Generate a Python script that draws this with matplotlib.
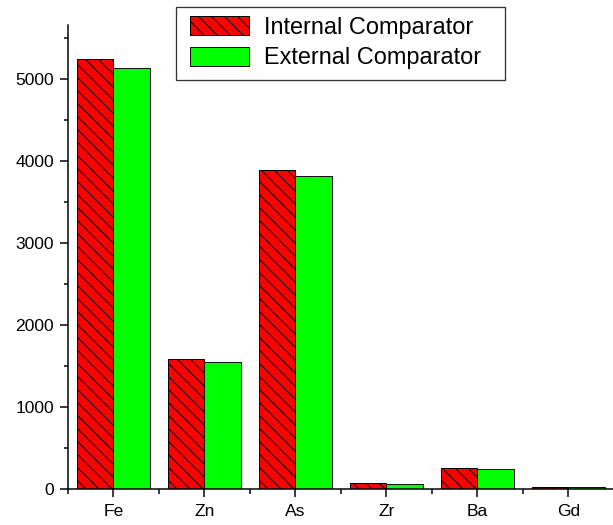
import numpy as np
import matplotlib.pyplot as plt
from matplotlib.patches import Rectangle
from matplotlib.ticker import MultipleLocator

elements = ['Fe', 'Zn', 'As', 'Zr', 'Ba', 'Gd']
internal = [5240, 1590, 3895, 70, 252, 28]
external = [5135, 1555, 3820, 62, 248, 25]

DPI = 78
W, H = 613, 525


def pt(px):
    # pixel size -> points at this dpi
    return px * 72.0 / DPI


plt.rcParams['font.family'] = ['Liberation Sans', 'DejaVu Sans']
plt.rcParams['hatch.linewidth'] = pt(1.0)

fig = plt.figure(figsize=(W / DPI, H / DPI), dpi=DPI)
ax = fig.add_axes([68 / W, (H - 489) / H, (614 - 68) / W, (489 - 25) / H])

x = np.arange(len(elements))
bw = 0.4
ax.bar(x - bw / 2, internal, bw, color='#ff0000', edgecolor='black',
       linewidth=pt(1.0), hatch='\\\\', label='Internal Comparator')
ax.bar(x + bw / 2, external, bw, color='#00ff00', edgecolor='#111111',
       linewidth=pt(1.0), label='External Comparator')

ax.set_xlim(-0.5, 5.5)
ax.set_ylim(0, 5660)
ax.set_xticks(x)
ax.set_xticklabels(elements)
ax.xaxis.set_minor_locator(MultipleLocator(1, offset=0.5))
ax.yaxis.set_major_locator(MultipleLocator(1000))
ax.yaxis.set_minor_locator(MultipleLocator(500))

for side in ('top', 'right'):
    ax.spines[side].set_visible(False)
for side in ('left', 'bottom'):
    ax.spines[side].set_linewidth(pt(1.5))

ax.tick_params(which='major', direction='out', length=pt(8), width=pt(1.5),
               labelsize=pt(17.5), pad=pt(6))
ax.tick_params(which='minor', direction='out', length=pt(4.5), width=pt(1.5))
ax.tick_params(axis='x', which='major', pad=pt(7))

# legend entries without their own frame; the box is drawn separately
fs = 23.5
leg = fig.legend(loc='upper left', bbox_to_anchor=(190 / W, 1 - 16 / H),
                 fontsize=pt(fs), frameon=False,
                 handlelength=59 / fs, handleheight=21 / fs,
                 handletextpad=15 / fs,
                 labelspacing=0.33, borderpad=0, borderaxespad=0)
fig.patches.append(Rectangle((176 / W, 1 - 80 / H), (505 - 176) / W, 73 / H,
                             transform=fig.transFigure, fill=False,
                             edgecolor='#333333', linewidth=pt(1.3)))

# clipped caption line peeking in at the very top
fig.text(262 / W, 1 + 10 / H, '),pp', family='Liberation Serif',
         fontsize=pt(20), va='bottom', ha='left')

fig.savefig('out.png', dpi=DPI)
